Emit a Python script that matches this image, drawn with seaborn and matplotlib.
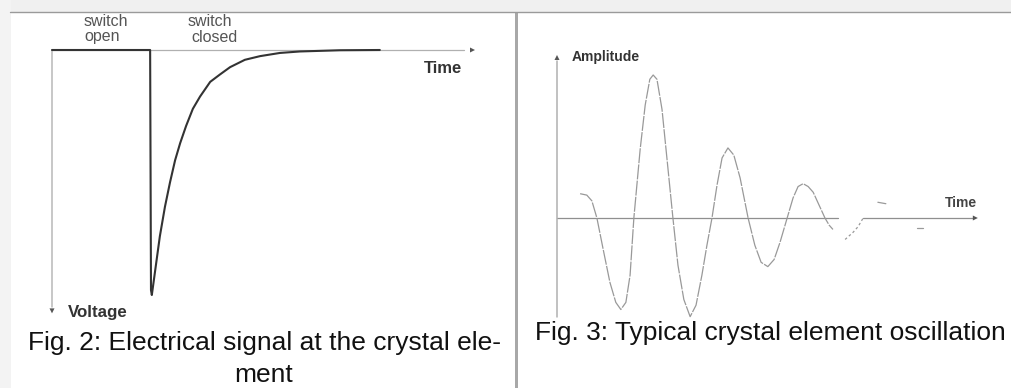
import seaborn as sns
import matplotlib.pyplot as plt
from matplotlib.patches import Rectangle

# Fig. 2: voltage at the crystal element (time in arbitrary units, voltage normalised)
sig_time = [0.0, 2.32, 2.34, 2.36, 2.55, 2.67, 2.79, 2.91, 3.03, 3.17, 3.33, 3.50,
            3.74, 3.97, 4.21, 4.56, 4.92, 5.39, 5.86, 6.81, 7.75]
sig_volt = [0.0, 0.0, -0.98, -1.0, -0.76, -0.64, -0.54, -0.45, -0.38, -0.31, -0.24, -0.19,
            -0.13, -0.10, -0.07, -0.04, -0.025, -0.012, -0.006, -0.001, 0.0]

# Fig. 3: damped oscillation of the crystal element
osc_time = [0.55, 0.71, 0.83, 0.95, 1.10, 1.26, 1.40, 1.52, 1.64, 1.74, 1.83, 1.98,
            2.10, 2.21, 2.29, 2.38, 2.50, 2.62, 2.76, 2.88, 3.02, 3.17, 3.31, 3.45,
            3.57, 3.69, 3.81, 3.93, 4.07, 4.21, 4.36, 4.55, 4.71, 4.86, 5.02, 5.17,
            5.31, 5.48, 5.62, 5.74, 5.86, 5.98, 6.10, 6.24, 6.38, 6.48, 6.57]
osc_amp = [0.17, 0.16, 0.12, 0.0, -0.22, -0.45, -0.59, -0.64, -0.59, -0.40, 0.0, 0.48,
           0.79, 0.97, 1.0, 0.97, 0.76, 0.41, 0.0, -0.33, -0.57, -0.69, -0.61, -0.40,
           -0.19, 0.0, 0.23, 0.42, 0.49, 0.44, 0.28, 0.0, -0.19, -0.31, -0.34, -0.29,
           -0.17, 0.0, 0.14, 0.22, 0.24, 0.22, 0.18, 0.09, 0.0, -0.05, -0.08]
tail_time = [6.86, 7.05, 7.17, 7.29]
tail_amp = [-0.15, -0.10, -0.06, 0.0]
frag_time = [[7.64, 7.83], [8.57, 8.71]]
frag_amp = [[0.11, 0.10], [-0.07, -0.07]]

caption_left = ["Fig. 2: Electrical signal at the crystal ele-", "ment"]
caption_right = "Fig. 3: Typical crystal element oscillation"

W, H = 1011, 388

sns.set_theme(style="white")
plt.rcParams["font.family"] = ["Liberation Sans", "DejaVu Sans"]

fig = plt.figure(figsize=(W / 100, H / 100), dpi=100)
fig.patch.set_facecolor("white")

# page / table frame, in pixel coordinates
bg = fig.add_axes([0, 0, 1, 1])
bg.set_xlim(0, W)
bg.set_ylim(H, 0)
bg.axis("off")
bg.add_patch(Rectangle((0, 0), W, 11.5, fc="#f0f0f0", ec="none"))
bg.add_patch(Rectangle((0, 0), 11, H, fc="#f3f3f3", ec="none"))
bg.plot([10, W], [11.8, 11.8], color="#9a9a9a", lw=1.0)
bg.add_patch(Rectangle((515, 12), 3, H - 12, fc="#a8a8a8", ec="none"))


def panel(box, origin, scale):
    x0, y0, x1, y1 = box
    ax = fig.add_axes([x0 / W, 1 - y1 / H, (x1 - x0) / W, (y1 - y0) / H])
    ox, oy = origin
    sx, sy = scale
    ax.set_xlim((x0 - ox) / sx, (x1 - ox) / sx)
    ax.set_ylim((oy - y1) / sy, (oy - y0) / sy)
    ax.patch.set_alpha(0)
    ax.axis("off")
    return ax


def arrow(ax, start, end, color="#555555"):
    ax.annotate("", xy=end, xytext=start,
                arrowprops=dict(arrowstyle="-|>", color=color, lw=0,
                                mutation_scale=9, shrinkA=0, shrinkB=0))


# ---- left panel
axl = panel((15, 15, 510, 335), (52, 50), (42.3, 245))
axl.plot([0, 9.75], [0, 0], color="#b0b0b0", lw=0.9)
axl.plot([0, 0], [0, -1.05], color="#b8b8b8", lw=1.1)
arrow(axl, (9.8, 0), (10.0, 0))
arrow(axl, (0, -1.03), (0, -1.075))
sns.lineplot(x=sig_time, y=sig_volt, sort=False, estimator=None, ax=axl,
             color="#333333", lw=1.5)

# ---- right panel
axr = panel((520, 40, 1005, 335), (557, 218), (42, 143))
axr.plot([0, 6.69], [0, 0], color="#8f8f8f", lw=0.9)
axr.plot([7.29, 9.9], [0, 0], color="#8f8f8f", lw=0.9)
axr.plot([0, 0], [-0.69, 1.10], color="#b0b0b0", lw=1.1)
arrow(axr, (9.85, 0), (10.02, 0))
arrow(axr, (0, 1.08), (0, 1.14))
sns.lineplot(x=osc_time, y=osc_amp, sort=False, estimator=None, ax=axr,
             color="#999999", lw=0.9, linestyle=(0, (12, 1)))
sns.lineplot(x=tail_time, y=tail_amp, sort=False, estimator=None, ax=axr,
             color="#999999", lw=0.9, linestyle=(0, (2, 2)))
for ft, fa in zip(frag_time, frag_amp):
    sns.lineplot(x=ft, y=fa, sort=False, estimator=None, ax=axr,
                 color="#9a9a9a", lw=0.9)

# ---- labels
small = dict(fontsize=11.5, color="#555555", ha="center", va="baseline")
bg.text(106, 26, "switch", **small)
bg.text(102, 41.5, "open", **small)
bg.text(210, 26, "switch", **small)
bg.text(214, 41.5, "closed", **small)
bg.text(443, 73, "Time", fontsize=12, fontweight="bold", color="#333333",
        ha="center", va="baseline")
bg.text(68, 317, "Voltage", fontsize=12.2, fontweight="bold", color="#333333",
        ha="left", va="baseline")
bg.text(572, 61, "Amplitude", fontsize=10, fontweight="bold", color="#333333",
        ha="left", va="baseline")
bg.text(977, 207, "Time", fontsize=10, fontweight="bold", color="#444444",
        ha="right", va="baseline")

cap = dict(fontsize=19, color="#111111", ha="center", va="baseline")
bg.text(264, 350, caption_left[0], **cap)
bg.text(264, 382, caption_left[1], **cap)
bg.text(770, 340, caption_right, **cap)

fig.savefig("out.png", dpi=100)
plt.close(fig)
